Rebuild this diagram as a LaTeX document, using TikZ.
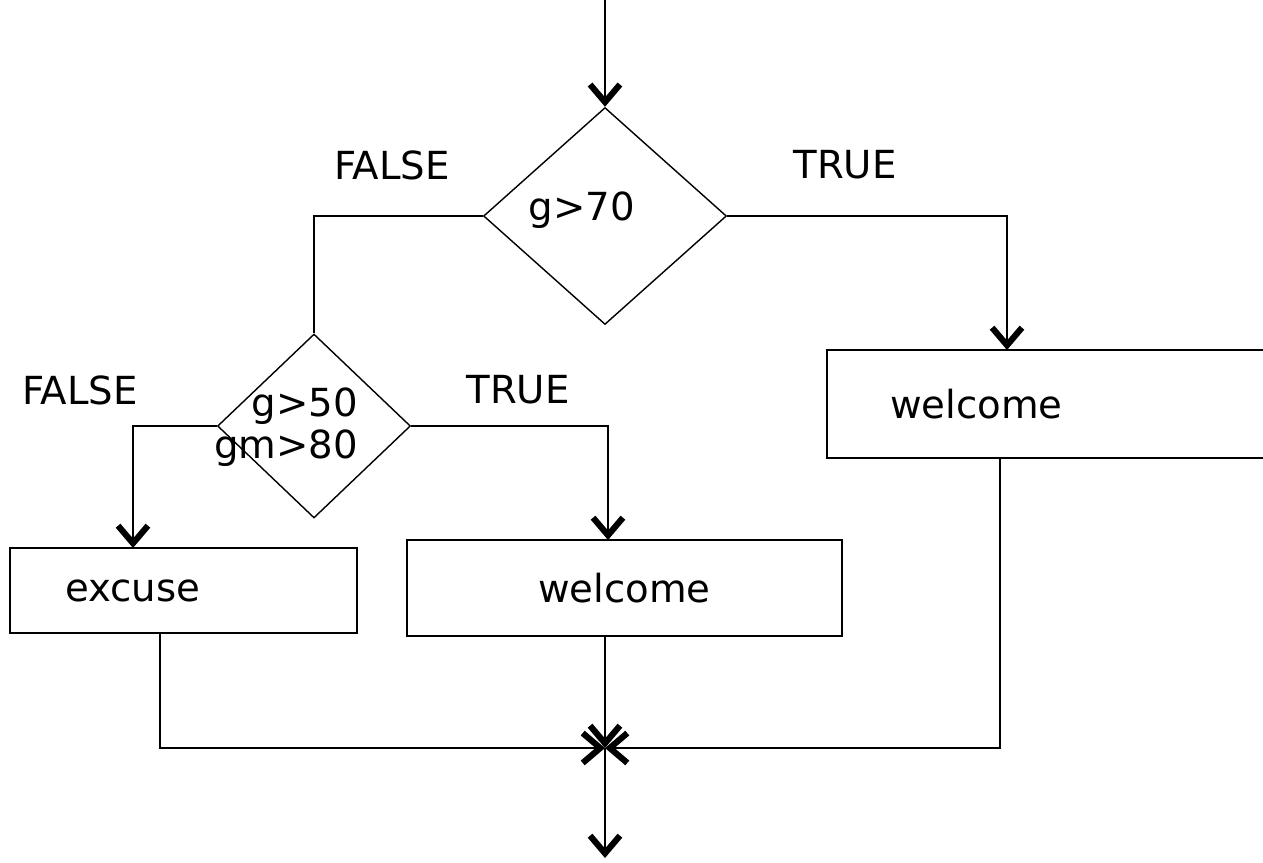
\documentclass[tikz,border=0pt]{standalone}
\usepackage{fontspec}
\setmainfont{DejaVu Sans}
\usetikzlibrary{shapes, positioning, arrows.meta}

\begin{document}
\begin{tikzpicture}[x=0.02cm, y=-0.02cm, line width=1.3pt,
        every node/.style={font=\fontsize{22}{24}\selectfont},
        decision/.style={diamond, draw, line width=0.8pt, inner sep=0pt},
        box/.style={rectangle, draw, line width=1.4pt},
        flow/.style={-{Straight Barb[length=10pt, width=17pt, line width=3.5pt]}}]
        \useasboundingbox (0,0) rectangle (1263,862);

        \node[decision, minimum width=4.86cm, minimum height=4.34cm] (d1) at (605,216) {};
        \node[decision, minimum width=3.86cm, minimum height=3.68cm] (d2) at (314,426) {};
        \node (c1) at (582,210) {g>70};
        \node[align=right, anchor=east] (c2) at (365,427) {g>50\\gm>80};

        \node[box, minimum height=2.16cm, inner xsep=1.26cm, text width=6.44cm, align=left] (yes1) at (1051,404) {welcome};
        \node[box, minimum height=1.7cm, inner xsep=1.1cm, text width=4.74cm, align=left] (no2) at (183.5,590.5) {excuse};
        \node[box, minimum width=8.7cm, minimum height=1.92cm] (yes2) at (624.5,588) {welcome};

        \node (f1) at (392,165) {FALSE};
        \node (r1) at (845,165) {TRUE};
        \node (f2) at (80,390) {FALSE};
        \node (r2) at (518,390) {TRUE};

        \coordinate (in) at (605,0);
        \coordinate (k1) at (1007,350);
        \coordinate (k2) at (133,548);
        \coordinate (k3) at (608,540);
        \coordinate (o1) at (1000,458);
        \coordinate (o2) at (160,633);
        \coordinate (o3) at (605,636);
        \coordinate (join) at (605,748);
        \coordinate (out) at (605,858);

        \draw[flow] (in) -- (d1.north);
        \draw (d1.west) -| (d2.north);
        \draw[flow] (d1.east) -| (k1);
        \draw[flow] (d2.west) -| (k2);
        \draw[flow] (d2.east) -| (k3);
        \draw[flow] (o2) |- (join);
        \draw[flow] (o3) -- (join);
        \draw[flow] (o1) |- (join);
        \draw[flow] (join) -- (out);
    \end{tikzpicture}
\end{document}
